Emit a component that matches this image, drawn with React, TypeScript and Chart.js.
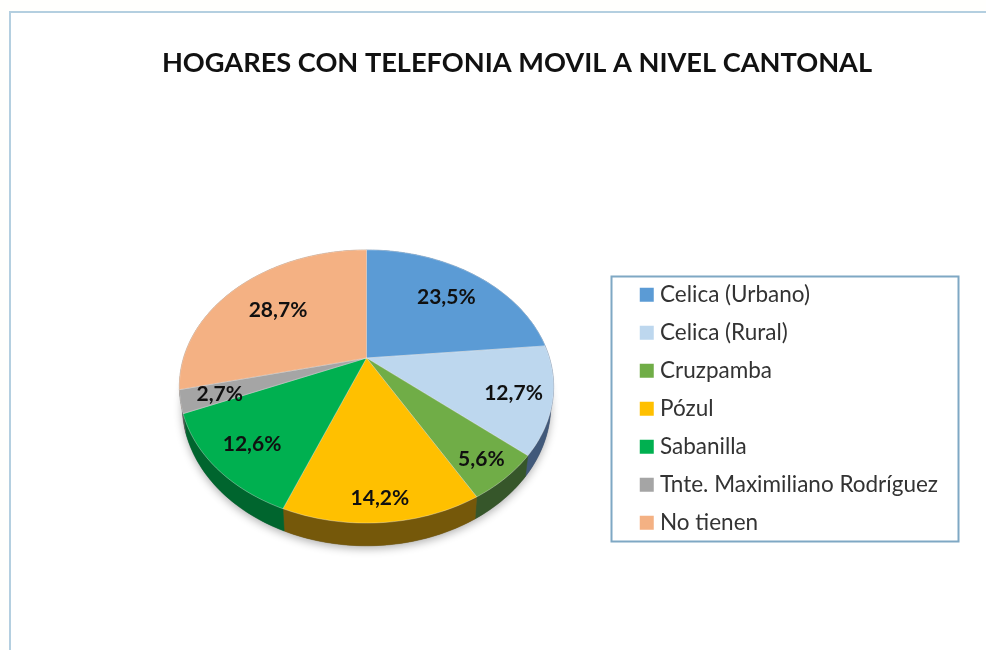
import React, { useEffect, useRef } from "react";
import { Chart, registerables } from "chart.js";

Chart.register(...registerables);

const TITLE = "HOGARES CON TELEFONIA MOVIL A NIVEL CANTONAL";
const categories = ["Celica (Urbano)", "Celica (Rural)", "Cruzpamba", "Pózul", "Sabanilla", "Tnte. Maximiliano Rodríguez", "No tienen"];
const values = [23.5, 12.7, 5.6, 14.2, 12.6, 2.7, 28.7];
const valueLabels = ["23,5%", "12,7%", "5,6%", "14,2%", "12,6%", "2,7%", "28,7%"];
const faceColors = ["#5b9bd5", "#bdd7ee", "#70ad47", "#ffc000", "#00b050", "#a5a5a5", "#f4b183"];
const sideColors = ["#2e5f8f", "#41597a", "#36562a", "#75580a", "#00652e", "#5c5c5c", "#93684a"];
const labelRadii = [0.72, 0.8, 0.85, 0.87, 0.79, 0.8, 0.67];

// Projection of the flat pie onto the tilted plane
const CX = 366.5, CY = 358, RX = 183, RY = 130.6, K = 0.2088, DEPTH = 18, BASE_SHRINK = 0.985;

function project(theta: number, r: number, depth = 0): [number, number] {
  const x = r * Math.sin(theta) * (depth ? BASE_SHRINK : 1);
  const y = -r * Math.cos(theta);
  const w = 1 - K * y;
  return [CX + (RX * x) / w, CY + (RY * y + depth) / w];
}

function arcPoints(a: number, b: number, depth: number) {
  const n = Math.max(2, Math.ceil((b - a) / 0.02));
  const pts: [number, number][] = [];
  for (let i = 0; i <= n; i++) pts.push(project(a + ((b - a) * i) / n, 1, depth));
  return pts;
}

const tiltedPie = {
  id: "tiltedPie",
  beforeDraw(chart: any) {
    const { ctx, width, height } = chart;
    ctx.save();
    ctx.fillStyle = "#fffffd";
    ctx.fillRect(0, 0, width, height);
    ctx.fillStyle = "#ffffff";
    ctx.fillRect(11, 13, width - 11, height - 13);
    ctx.strokeStyle = "#b4cfe0";
    ctx.lineWidth = 2;
    ctx.beginPath();
    ctx.moveTo(10, height);
    ctx.lineTo(10, 12);
    ctx.lineTo(width, 12);
    ctx.stroke();
    ctx.strokeStyle = "#7fa8c4";
    ctx.lineWidth = 2;
    ctx.strokeRect(611.5, 276.5, 347, 265);
    ctx.restore();
  },
  beforeDatasetDraw() {
    return false;
  },
  afterDatasetsDraw(chart: any) {
    const { ctx } = chart;
    const arcs = chart.getDatasetMeta(0).data;
    const angles = arcs.map((el: any) => {
      const p = el.getProps(["startAngle", "endAngle"], true);
      return [p.startAngle + Math.PI / 2, p.endAngle + Math.PI / 2];
    });
    ctx.save();
    // soft shadow below the pie
    ctx.save();
    ctx.shadowColor = "rgba(0,0,0,0.3)";
    ctx.shadowBlur = 9;
    ctx.shadowOffsetY = 3;
    ctx.fillStyle = "#666";
    ctx.beginPath();
    arcPoints(0, Math.PI * 2, DEPTH).forEach(([x, y], i) => (i ? ctx.lineTo(x, y) : ctx.moveTo(x, y)));
    ctx.closePath();
    ctx.fill();
    ctx.restore();
    // side wall
    angles.forEach(([a, b]: number[], i: number) => {
      const top = arcPoints(a, b, 0);
      const bottom = arcPoints(a, b, DEPTH).reverse();
      ctx.beginPath();
      [...top, ...bottom].forEach(([x, y], j) => (j ? ctx.lineTo(x, y) : ctx.moveTo(x, y)));
      ctx.closePath();
      ctx.fillStyle = sideColors[i];
      ctx.strokeStyle = sideColors[i];
      ctx.lineWidth = 0.5;
      ctx.fill();
      ctx.stroke();
    });
    // top faces
    angles.forEach(([a, b]: number[], i: number) => {
      ctx.beginPath();
      ctx.moveTo(CX, CY);
      arcPoints(a, b, 0).forEach(([x, y]) => ctx.lineTo(x, y));
      ctx.closePath();
      ctx.fillStyle = faceColors[i];
      ctx.fill();
      ctx.strokeStyle = "rgba(255,255,255,0.3)";
      ctx.lineWidth = 1;
      ctx.stroke();
    });
    // value labels
    ctx.font = "bold 21px Lato";
    ctx.fillStyle = "#101010";
    ctx.textAlign = "center";
    ctx.textBaseline = "middle";
    angles.forEach(([a, b]: number[], i: number) => {
      const [x, y] = project((a + b) / 2, labelRadii[i]);
      ctx.fillText(valueLabels[i], x, y + 2);
    });
    ctx.restore();
  },
};

export default function App() {
  const ref = useRef<HTMLCanvasElement>(null);
  useEffect(() => {
    document.body.style.margin = "0";
    const baseLabels = (Chart as any).overrides.doughnut.plugins.legend.labels.generateLabels;
    const chart = new Chart(ref.current as HTMLCanvasElement, {
      type: "pie",
      data: {
        labels: categories,
        datasets: [{ data: values, backgroundColor: faceColors, borderWidth: 0 }],
      },
      options: {
        responsive: false,
        animation: false,
        layout: { padding: { left: 86, right: 38, top: 30, bottom: 30 } },
        plugins: {
          title: {
            display: true,
            text: TITLE,
            color: "#111111",
            font: { family: "Lato", size: 27.2, weight: "bold" },
            padding: { top: 17, bottom: 118 },
          },
          tooltip: { enabled: false },
          legend: {
            display: true,
            position: "right",
            fullSize: false,
            labels: {
              color: "#333333",
              font: { family: "Lato", size: 22.5 },
              boxWidth: 4,
              boxHeight: 4,
              padding: 15.5,
              generateLabels(c: any) {
                return baseLabels(c).map((item: any) => ({
                  ...item,
                  strokeStyle: item.fillStyle,
                  lineWidth: 10,
                }));
              },
            },
          },
        },
      },
      plugins: [tiltedPie],
    } as any);
    return () => chart.destroy();
  }, []);
  return <canvas ref={ref} width={986} height={650} style={{ display: "block", width: 986, height: 650, filter: "blur(0.5px)" }} />;
}
